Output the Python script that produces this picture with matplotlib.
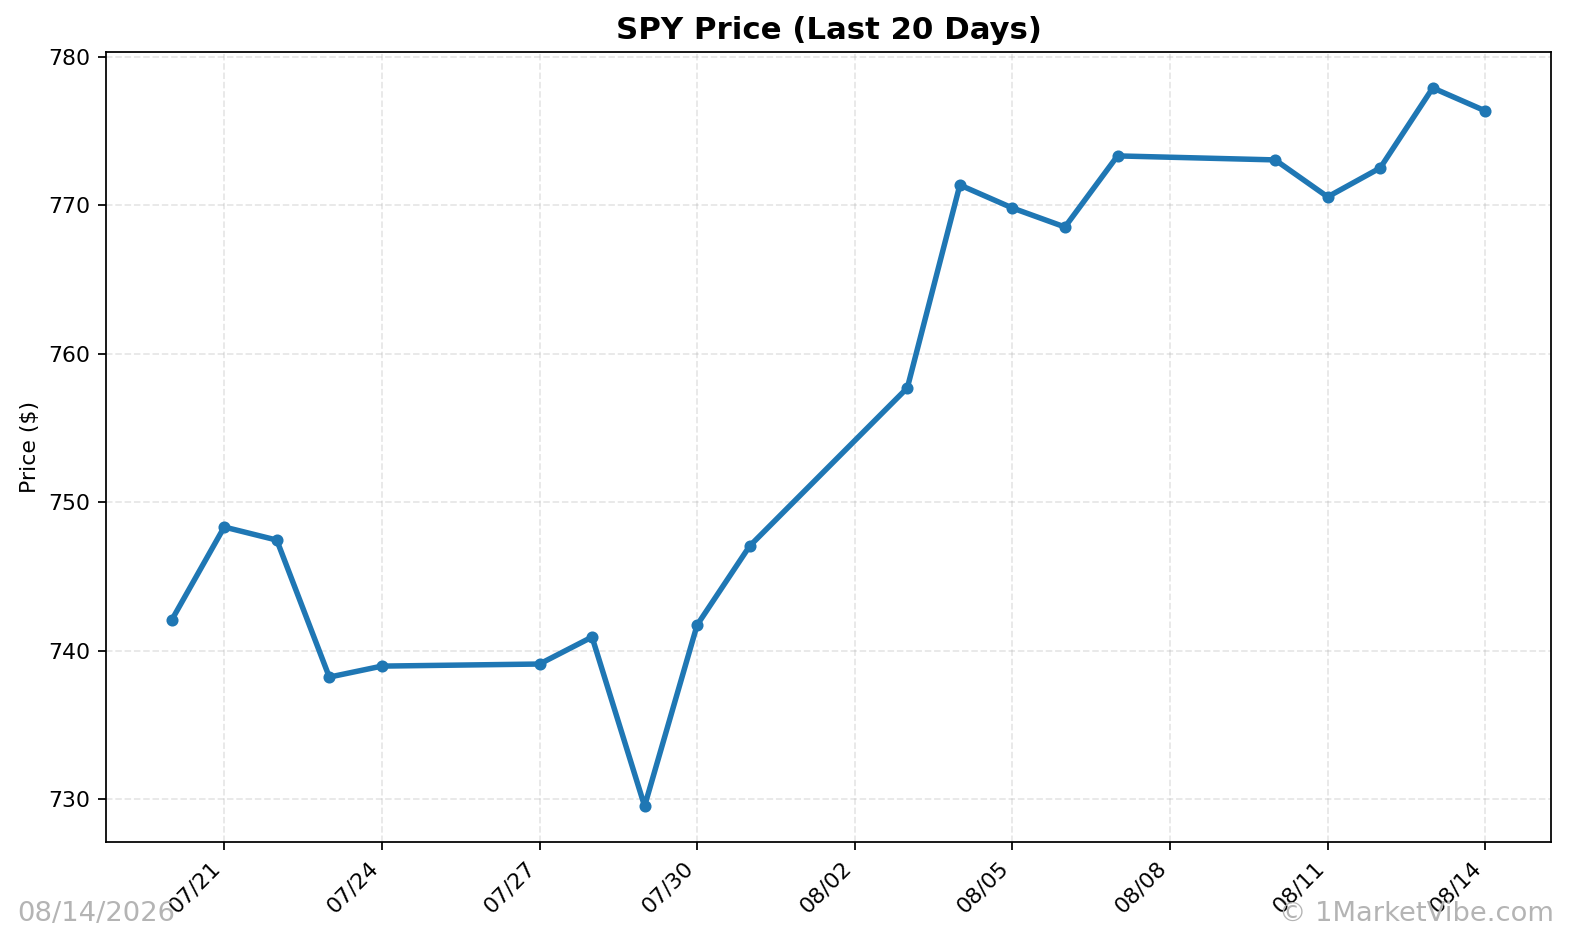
import pandas as pd
import matplotlib
matplotlib.use('Agg')
import matplotlib.pyplot as plt
import matplotlib.dates as mdates

dates = ['2026-07-20', '2026-07-21', '2026-07-22', '2026-07-23', '2026-07-24',
         '2026-07-27', '2026-07-28', '2026-07-29', '2026-07-30', '2026-07-31',
         '2026-08-03', '2026-08-04', '2026-08-05', '2026-08-06', '2026-08-07',
         '2026-08-10', '2026-08-11', '2026-08-12', '2026-08-13', '2026-08-14']
prices = [742.06, 748.33, 747.45, 738.22, 738.96,
          739.10, 740.92, 729.53, 741.73, 747.05,
          757.70, 771.37, 769.82, 768.54, 773.33,
          773.06, 770.57, 772.52, 777.91, 776.36]

df = pd.DataFrame({'date': pd.to_datetime(dates), 'close': prices})

DPI = 158
fig = plt.figure(figsize=(1582 / DPI, 942 / DPI), dpi=DPI)
ax = fig.add_axes([106 / 1582, 1 - 842 / 942, (1551 - 106) / 1582, (842 - 52) / 942])

ax.plot(df['date'], df['close'], color='#1f77b4', linewidth=2.5, marker='o', markersize=4.5)
ax.set_title('SPY Price (Last 20 Days)', fontsize=14, fontweight='bold')
ax.set_ylabel('Price ($)')
ax.grid(True, linestyle='--', alpha=0.3)

ax.xaxis.set_major_locator(mdates.DayLocator(interval=3))
ax.xaxis.set_major_formatter(mdates.DateFormatter('%m/%d'))
plt.setp(ax.get_xticklabels(), rotation=45, ha='right')

fig.text(0.011, 0.016, '08/14/2026', fontsize=12.5, color='#b4b4b4', ha='left', va='bottom')
fig.text(0.982, 0.016, '\u00a9 1MarketVibe.com', fontsize=12.5, color='#b4b4b4', ha='right', va='bottom')

fig.savefig('out.png', dpi=DPI)
